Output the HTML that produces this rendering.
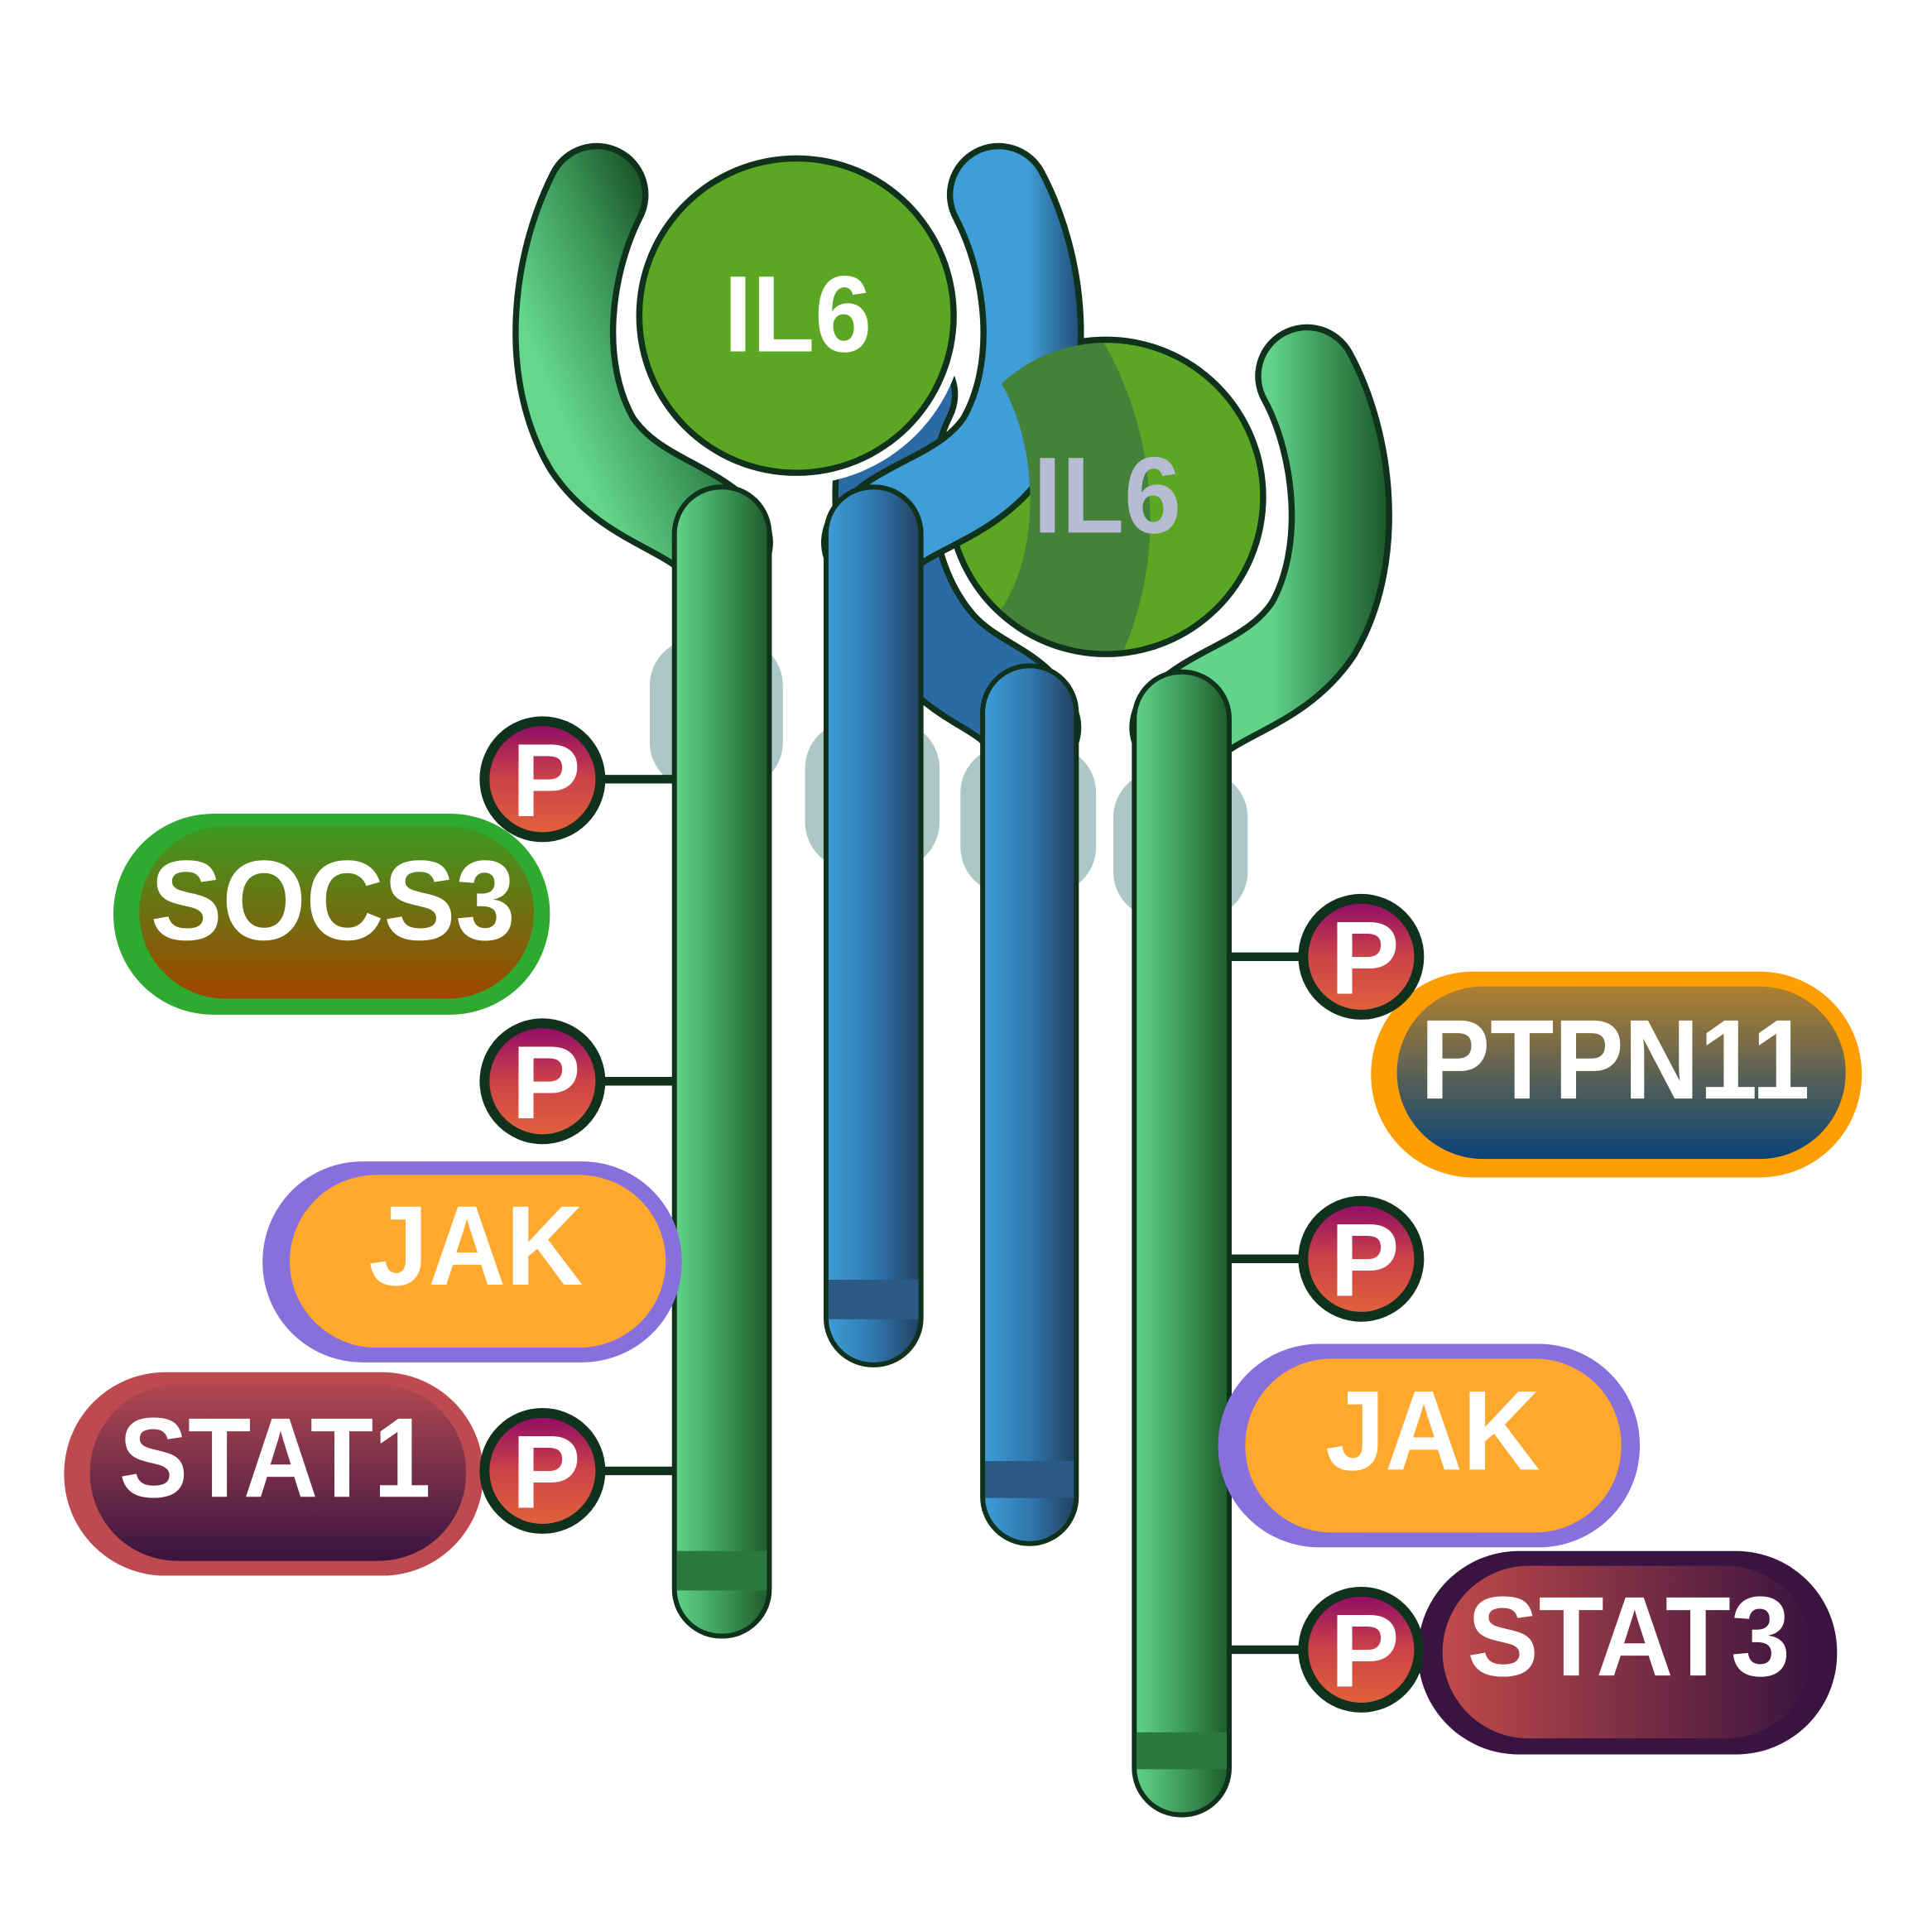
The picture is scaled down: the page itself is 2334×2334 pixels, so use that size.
<!DOCTYPE html>
<html><head><meta charset="utf-8"><style>html,body{margin:0;padding:0;background:#fff}svg{display:block}</style></head>
<body>
<svg width="2334" height="2334" viewBox="0 0 1567 1567" xmlns="http://www.w3.org/2000/svg" font-family="Liberation Sans, Arial, sans-serif" font-weight="bold">
<defs>
<linearGradient id="gs" x1="0" x2="1" y1="0" y2="0"><stop offset="0" stop-color="#62d48a"/><stop offset="0.4" stop-color="#45a865"/><stop offset="1" stop-color="#1d5a2a"/></linearGradient>
<linearGradient id="bs" x1="0" x2="1" y1="0" y2="0"><stop offset="0" stop-color="#3f9ed8"/><stop offset="0.5" stop-color="#3078b0"/><stop offset="1" stop-color="#223f5e"/></linearGradient>
<linearGradient id="ga1" gradientUnits="userSpaceOnUse" x1="440" y1="300" x2="560" y2="250"><stop offset="0" stop-color="#65d68b"/><stop offset="0.6" stop-color="#3a9458"/><stop offset="1" stop-color="#1d5a2a"/></linearGradient>
<linearGradient id="ga2" gradientUnits="userSpaceOnUse" x1="1030" y1="400" x2="1125" y2="400"><stop offset="0" stop-color="#62d48a"/><stop offset="0.5" stop-color="#3a9458"/><stop offset="1" stop-color="#1d5a2a"/></linearGradient>
<linearGradient id="ba1" gradientUnits="userSpaceOnUse" x1="770" y1="250" x2="875" y2="250"><stop offset="0" stop-color="#3f9ed8"/><stop offset="0.6" stop-color="#3f9ed8"/><stop offset="1" stop-color="#23507a"/></linearGradient>
<linearGradient id="pg" x1="0" x2="0" y1="0" y2="1"><stop offset="0" stop-color="#930e66"/><stop offset="0.5" stop-color="#cc4348"/><stop offset="1" stop-color="#e0603c"/></linearGradient>
<linearGradient id="socs" x1="0" x2="0" y1="0" y2="1"><stop offset="0" stop-color="#3d9a22"/><stop offset="1" stop-color="#a04600"/></linearGradient>
<linearGradient id="stat1" x1="0" x2="0" y1="0" y2="1"><stop offset="0" stop-color="#b04850"/><stop offset="1" stop-color="#3a1440"/></linearGradient>
<linearGradient id="ptp" x1="0" x2="0" y1="0" y2="1"><stop offset="0" stop-color="#b08030"/><stop offset="1" stop-color="#0a4478"/></linearGradient>
<linearGradient id="stat3" x1="0" x2="1" y1="0" y2="0"><stop offset="0" stop-color="#c04a4a"/><stop offset="1" stop-color="#3a1440"/></linearGradient>
<clipPath id="c2"><circle cx="897" cy="403" r="125"/></clipPath>
</defs>

<g fill="#adc6c6">
<rect x="527" y="518" width="108" height="122" rx="38"/>
<rect x="653" y="585" width="109" height="120" rx="38"/>
<rect x="779" y="605" width="110" height="120" rx="38"/>
<rect x="903" y="625" width="109" height="120" rx="38"/>
</g>

<path d="M735,320 C705,380 712,470 760,525 C790,558 825,560 835,590" fill="none" stroke="#10321c" stroke-width="84" stroke-linecap="round"/>
<path d="M735,320 C705,380 712,470 760,525 C790,558 825,560 835,590" fill="none" stroke="#2c6aa6" stroke-width="74" stroke-linecap="round"/>
<rect x="797" y="540" width="76" height="712" rx="38" fill="url(#bs)" stroke="#10321c" stroke-width="4"/>
<rect x="799" y="1185" width="72" height="30" fill="#2a5a85"/>

<circle cx="897" cy="403" r="137" fill="#fff"/>
<circle cx="897" cy="403" r="130" fill="#10321c"/>
<circle cx="897" cy="403" r="125" fill="#5ba622"/>

<path d="M1060,305 C1090,360 1100,450 1065,510 C1035,555 985,560 958,590" fill="none" stroke="#10321c" stroke-width="84" stroke-linecap="round"/>
<path d="M1060,305 C1090,360 1100,450 1065,510 C1035,555 985,560 958,590" fill="none" stroke="url(#ga2)" stroke-width="74" stroke-linecap="round"/>
<rect x="920" y="545" width="77" height="927" rx="38" fill="url(#gs)" stroke="#10321c" stroke-width="4"/>
<rect x="922" y="1405" width="73" height="30" fill="#2a7a40"/>

<path d="M810,158 C840,215 850,300 815,360 C785,405 730,410 708,440" fill="none" stroke="#10321c" stroke-width="84" stroke-linecap="round"/>
<path d="M810,158 C840,215 850,300 815,360 C785,405 730,410 708,440" fill="none" stroke="url(#ba1)" stroke-width="74" stroke-linecap="round"/>
<rect x="670" y="395" width="77" height="712" rx="38" fill="url(#bs)" stroke="#10321c" stroke-width="4"/>
<rect x="672" y="1038" width="73" height="32" fill="#2a5a85"/>
<g clip-path="url(#c2)">
<path d="M760,260 C840,300 850,420 820,480 C800,520 780,530 770,540 L770,560 L895,560 C960,450 930,330 890,270 Z" fill="#44823a"/>
</g>
<text x="898" y="432" font-size="88" fill="#b8bcd2" text-anchor="middle" textLength="120" lengthAdjust="spacingAndGlyphs">IL6</text>

<path d="M484,158 C455,215 445,300 480,360 C510,405 560,410 585,440" fill="none" stroke="#10321c" stroke-width="84" stroke-linecap="round"/>
<path d="M484,158 C455,215 445,300 480,360 C510,405 560,410 585,440" fill="none" stroke="url(#ga1)" stroke-width="74" stroke-linecap="round"/>
<rect x="547" y="395" width="77" height="932" rx="38" fill="url(#gs)" stroke="#10321c" stroke-width="4"/>
<rect x="549" y="1258" width="73" height="32" fill="#2a7a40"/>

<circle cx="646" cy="256" r="137" fill="#fff"/>
<circle cx="646" cy="256" r="130" fill="#10321c"/>
<circle cx="646" cy="256" r="125" fill="#5ba622"/>
<text x="647" y="285" font-size="88" fill="#fff" text-anchor="middle" textLength="120" lengthAdjust="spacingAndGlyphs">IL6</text>

<g stroke="#10321c" stroke-width="7">
<line x1="490" y1="632" x2="548" y2="632"/>
<line x1="490" y1="877" x2="548" y2="877"/>
<line x1="490" y1="1193" x2="548" y2="1193"/>
<line x1="997" y1="776" x2="1054" y2="776"/>
<line x1="997" y1="1021" x2="1054" y2="1021"/>
<line x1="997" y1="1338" x2="1054" y2="1338"/>
</g>

<rect x="92" y="660" width="354" height="163" rx="81" fill="#2eaa30"/>
<rect x="113" y="670" width="320" height="140" rx="70" fill="url(#socs)"/>
<text x="270" y="762" font-size="92" fill="#fff" text-anchor="middle" textLength="296" lengthAdjust="spacingAndGlyphs">SOCS3</text>

<rect x="213" y="942" width="340" height="163" rx="81" fill="#8870dc"/>
<rect x="235" y="953" width="305" height="140" rx="70" fill="#ffa82e"/>
<text x="386" y="1042" font-size="92" fill="#fff" text-anchor="middle" textLength="174" lengthAdjust="spacingAndGlyphs">JAK</text>

<rect x="52" y="1113" width="340" height="165" rx="82" fill="#bd4a50"/>
<rect x="73" y="1123" width="305" height="143" rx="71" fill="url(#stat1)"/>
<text x="223" y="1214" font-size="92" fill="#fff" text-anchor="middle" textLength="253" lengthAdjust="spacingAndGlyphs">STAT1</text>

<rect x="1112" y="788" width="398" height="167" rx="83" fill="#ff9e00"/>
<rect x="1133" y="800" width="364" height="140" rx="70" fill="url(#ptp)"/>
<text x="1310" y="891" font-size="92" fill="#fff" text-anchor="middle" textLength="316" lengthAdjust="spacingAndGlyphs">PTPN11</text>

<rect x="988" y="1090" width="342" height="165" rx="82" fill="#8870dc"/>
<rect x="1010" y="1102" width="305" height="141" rx="70" fill="#ffa82e"/>
<text x="1162" y="1192" font-size="92" fill="#fff" text-anchor="middle" textLength="174" lengthAdjust="spacingAndGlyphs">JAK</text>

<rect x="1150" y="1258" width="340" height="165" rx="82" fill="#3a1440"/>
<rect x="1170" y="1270" width="300" height="140" rx="70" fill="url(#stat3)"/>
<text x="1321" y="1359" font-size="92" fill="#fff" text-anchor="middle" textLength="262" lengthAdjust="spacingAndGlyphs">STAT3</text>

<g>
<circle cx="440" cy="632" r="51" fill="#10321c"/><circle cx="440" cy="632" r="43" fill="url(#pg)"/>
<text x="443" y="662" font-size="84" fill="#fff" text-anchor="middle">P</text>
<circle cx="440" cy="877" r="51" fill="#10321c"/><circle cx="440" cy="877" r="43" fill="url(#pg)"/>
<text x="443" y="907" font-size="84" fill="#fff" text-anchor="middle">P</text>
<circle cx="440" cy="1193" r="51" fill="#10321c"/><circle cx="440" cy="1193" r="43" fill="url(#pg)"/>
<text x="443" y="1223" font-size="84" fill="#fff" text-anchor="middle">P</text>
<circle cx="1104" cy="776" r="51" fill="#10321c"/><circle cx="1104" cy="776" r="43" fill="url(#pg)"/>
<text x="1107" y="806" font-size="84" fill="#fff" text-anchor="middle">P</text>
<circle cx="1104" cy="1021" r="51" fill="#10321c"/><circle cx="1104" cy="1021" r="43" fill="url(#pg)"/>
<text x="1107" y="1051" font-size="84" fill="#fff" text-anchor="middle">P</text>
<circle cx="1104" cy="1338" r="51" fill="#10321c"/><circle cx="1104" cy="1338" r="43" fill="url(#pg)"/>
<text x="1107" y="1368" font-size="84" fill="#fff" text-anchor="middle">P</text>
</g>
</svg>
</body></html>
